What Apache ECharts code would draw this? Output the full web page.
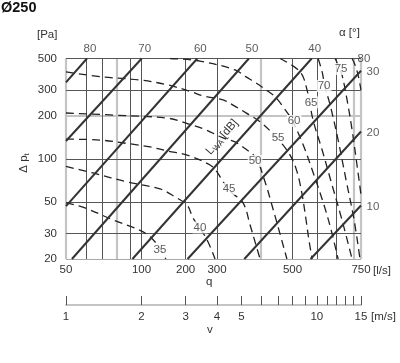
<!DOCTYPE html>
<html><head><meta charset="utf-8">
<script src="https://cdn.jsdelivr.net/npm/echarts@6/dist/echarts.min.js"></script>
<style>html,body{margin:0;padding:0;background:#fff}#c{width:400px;height:363px}</style>
</head><body><div id="c"></div>
<script>
// ---- axes / ticks ----
const qTicks = [50, 100, 150, 200, 400, 750];
const qTickLabels = ['50', '100', '200', '300', '500', '750'];
const pTicks = [20, 30, 50, 100, 200, 300, 500];
const vTicks = [1,2,3,4,5,6,7,8,9,10,11,12,13,14,15];
const vTickLabels = [1, 2, 3, 4, 5, 10, 15];
const qGridDark = [60, 70, 90, 100, 150, 200, 400, 500, 600];
const qGridLight = [50, 80, 300, 700, 750];
const pGridDark = [20, 30, 50, 100, 300, 500];
const pGridLight = [200];

// ---- damper angle lines (alpha, deg): two end points [q l/s, dp Pa] ----
const alphaNames = ['80', '70', '60', '50', '40', '30', '20', '10'];
const alpha80 = [[50, 341], [60.6, 500]];
const alpha70 = [[50, 133], [100.2, 500]];
const alpha60 = [[50, 46.8], [166.9, 500]];
const alpha50 = [[52.8, 20], [268, 500]];
const alpha40 = [[92, 20], [477, 500]];
const alpha30 = [[152.6, 20], [750, 411]];
const alpha20 = [[257, 20], [750, 155]];
const alpha10 = [[472, 20], [750, 47.2]];

// ---- sound power level curves L_WA (dB) ----
const lwaNames = ['35', '40', '45', '50', '55', '60', '65', '70', '75', '80'];
const lwa35 = [[50,49.2],[59.5,45.4],[77,37.4],[101.5,30.9],[115.3,25.4],[125,20]];
const lwa40 = [[50,88.4],[64,79.6],[87.6,68.9],[118.5,61.6],[136,54.2],[151.9,47.6],[160.5,38.6],[180.9,28],[196.4,20]];
const lwa45 = [[50,137],[68.3,135],[90,127],[108,121],[127.6,113],[152,106],[187.6,90.5],[200,81],[209.5,71],[225,59.6],[254,49.2],[271,34.5],[286,25],[297,20]];
const lwa50 = [[50,208.5],[74.9,202],[127.6,191.6],[159,172],[181,158.7],[211.4,139.6],[236,131],[263.5,115],[286,101.3],[311,68.9],[331,47.6],[353,31.9],[380,20]];
const lwa55 = [[50,403],[70.2,372],[98.7,354],[127.6,327],[159,292],[176,274],[211.4,257],[238,230],[261,209],[297,181],[350,137],[391,106],[417,81],[437,56],[453,37.4],[465,27.1],[479,20]];
const lwa60 = [[130,500],[171,480],[236,416],[261,372],[286,338],[314,302],[341,270],[367,230],[398,186],[441,125],[487,77],[534,47.6],[570,31.9],[608,20]];
const lwa65 = [[357,500],[429,403],[457,302],[483,186],[525,115],[575,65.6],[630,37.4],[691,20]];
const lwa70 = [[506,500],[525,403],[539,317],[565,237],[608,135],[654,71],[704,37.4],[743,20]];
const lwa75 = [[591,500],[608,451],[630,384],[660,257],[691,159],[723,90.5],[750,56]];
const lwa80 = [[691,500],[710,451],[730,384],[750,302]];
// label anchor points on the curves [q, dp]
const lwaLabelPos = [[118.5,23.1],[171.1,33.2],[223.4,61.6],[283.5,96.5],[350.3,140.7],[405.6,183.4],[474.2,247],[534.3,321.8],[624.6,422.8],[771,496]];

// ---------------------------------------------------
const L = Math.log10;
const tx = pts => pts.map(([q, p]) => [L(q), L(p)]);
const FONT = "'Liberation Sans', Arial, Helvetica, sans-serif";
const TXT = '#333';
const qMin = 50, qMax = 750, pMin = 20, pMax = 500, vMin = 1, vMax = 15;

function lookup(ticks, labels, v) {
  for (let i = 0; i < ticks.length; i++) if (Math.abs(L(ticks[i]) - v) < 1e-6) return String(labels[i]);
  return '';
}

const alphaLines = [alpha80, alpha70, alpha60, alpha50, alpha40, alpha30, alpha20, alpha10];
const lwaCurves = [lwa35, lwa40, lwa45, lwa50, lwa55, lwa60, lwa65, lwa70, lwa75, lwa80];

const gridSeries = (qs, ps, color, width) => ({
  type: 'lines', coordinateSystem: 'cartesian2d', xAxisIndex: 0, yAxisIndex: 0,
  silent: true, z: 1, polyline: false,
  lineStyle: { color: color, width: width, opacity: 1 },
  data: qs.map(q => ({ coords: [[L(q), L(pMin)], [L(q), L(pMax)]] }))
    .concat(ps.map(p => ({ coords: [[L(qMin), L(p)], [L(qMax), L(p)]] })))
});

const series = [
  gridSeries(qGridLight, pGridLight, '#c4c4c4', 2.2),
  gridSeries(qGridDark, pGridDark, '#555', 1),
];
alphaLines.forEach((pts, i) => series.push({
  type: 'line', name: 'a' + alphaNames[i], data: tx(pts), symbol: 'none', z: 3, silent: true,
  lineStyle: { color: '#333', width: 2 }
}));
lwaCurves.forEach((pts, i) => series.push({
  type: 'line', name: 'L' + lwaNames[i], data: tx(pts), symbol: 'none', smooth: 0.35, z: 2, silent: true,
  lineStyle: { color: '#222', width: 1.3, type: [8, 5] }
}));
// alpha labels at the upper end of each line
series.push({
  type: 'scatter', z: 5, silent: true, clip: false, symbolSize: 1, itemStyle: { color: 'rgba(0,0,0,0)' },
  data: alphaLines.map((pts, i) => {
    const e = pts[pts.length - 1];
    const atTop = e[1] >= pMax;
    return {
      value: [L(e[0]), L(e[1])],
      label: { show: true, formatter: alphaNames[i], position: atTop ? 'top' : 'right',
        distance: atTop ? 3 : 5, offset: atTop ? [3, 0] : [0, 1],
        color: TXT, fontSize: 11.5, fontFamily: FONT }
    };
  })
});
// L_WA labels
series.push({
  type: 'scatter', z: 6, silent: true, clip: false, symbolSize: 1, itemStyle: { color: 'rgba(0,0,0,0)' },
  data: lwaLabelPos.map((pt, i) => ({
    value: [L(pt[0]), L(pt[1])],
    label: { show: true, formatter: lwaNames[i], position: 'inside',
      backgroundColor: i === 9 ? 'transparent' : '#fff', padding: [0, 1],
      color: TXT, fontSize: 11.5, fontFamily: FONT }
  }))
});

const chart = echarts.init(document.getElementById('c'), null, { renderer: 'canvas' });
chart.setOption({
  animation: false,
  backgroundColor: '#fff',
  textStyle: { fontFamily: FONT },
  grid: [
    { left: 66, right: 39, top: 58.5, bottom: 104 },
    { left: 66, right: 39, top: 296, height: 9 }
  ],
  xAxis: [
    { type: 'value', gridIndex: 0, min: L(qMin), max: L(qMax),
      axisLine: { show: false }, axisTick: { show: false }, splitLine: { show: false },
      axisLabel: { customValues: qTicks.map(L), formatter: v => lookup(qTicks, qTickLabels, v),
        color: TXT, fontSize: 11.5, fontFamily: FONT, margin: 5, showMinLabel: true, showMaxLabel: true } },
    { type: 'value', gridIndex: 1, min: L(vMin), max: L(vMax), position: 'bottom',
      axisLine: { show: true, lineStyle: { color: '#c4c4c4', width: 2 } },
      axisTick: { show: true, inside: true, length: 9, customValues: vTicks.map(L), lineStyle: { color: '#555', width: 1 } },
      splitLine: { show: false },
      axisLabel: { customValues: vTickLabels.map(L), formatter: v => lookup(vTickLabels, vTickLabels, v),
        color: TXT, fontSize: 11.5, fontFamily: FONT, margin: 6, showMinLabel: true, showMaxLabel: true } }
  ],
  yAxis: [
    { type: 'value', gridIndex: 0, min: L(pMin), max: L(pMax),
      axisLine: { show: false }, axisTick: { show: false }, splitLine: { show: false },
      axisLabel: { customValues: pTicks.map(L), formatter: v => lookup(pTicks, pTicks, v),
        color: TXT, fontSize: 11.5, fontFamily: FONT, margin: 9, showMinLabel: true, showMaxLabel: true } },
    { type: 'value', gridIndex: 1, show: false, min: 0, max: 1 }
  ],
  series: series,
  graphic: [
    { type: 'text', left: 1, top: 0, style: { text: 'Ø250', font: 'bold 14.5px ' + FONT, fill: '#111' } },
    { type: 'text', x: 37, y: 35, style: { text: '[Pa]', font: '11.5px ' + FONT, fill: TXT, textVerticalAlign: 'middle' } },
    { type: 'text', x: 339, y: 33, style: { text: 'α [°]', font: '11.5px ' + FONT, fill: TXT, textVerticalAlign: 'middle' } },
    { type: 'text', x: 373, y: 270.5, style: { text: '[l/s]', font: '11.5px ' + FONT, fill: TXT, textVerticalAlign: 'middle' } },
    { type: 'text', x: 371, y: 316.5, style: { text: '[m/s]', font: '11.5px ' + FONT, fill: TXT, textVerticalAlign: 'middle' } },
    { type: 'text', x: 206, y: 282, style: { text: 'q', font: '11.5px ' + FONT, fill: TXT, textVerticalAlign: 'middle' } },
    { type: 'text', x: 207, y: 330, style: { text: 'v', font: '11.5px ' + FONT, fill: TXT, textVerticalAlign: 'middle' } },
    { type: 'text', x: 24, y: 163, rotation: Math.PI / 2,
      style: { text: 'Δ p{s|t}', font: '11.5px ' + FONT, fill: TXT, textAlign: 'center', textVerticalAlign: 'middle',
        rich: { s: { fontSize: 8, fontFamily: FONT, fill: TXT, verticalAlign: 'bottom', padding: [6, 0, 0, 0] } } } },
    { type: 'text', x: 222, y: 137, rotation: 0.855,
      style: { text: 'L{s|WA} [dB]', font: '11.5px ' + FONT, fill: TXT, textAlign: 'center', textVerticalAlign: 'middle',
        rich: { s: { fontSize: 8, fontFamily: FONT, fill: TXT, padding: [6, 0, 0, 0] } } } }
  ]
});
</script></body></html>
